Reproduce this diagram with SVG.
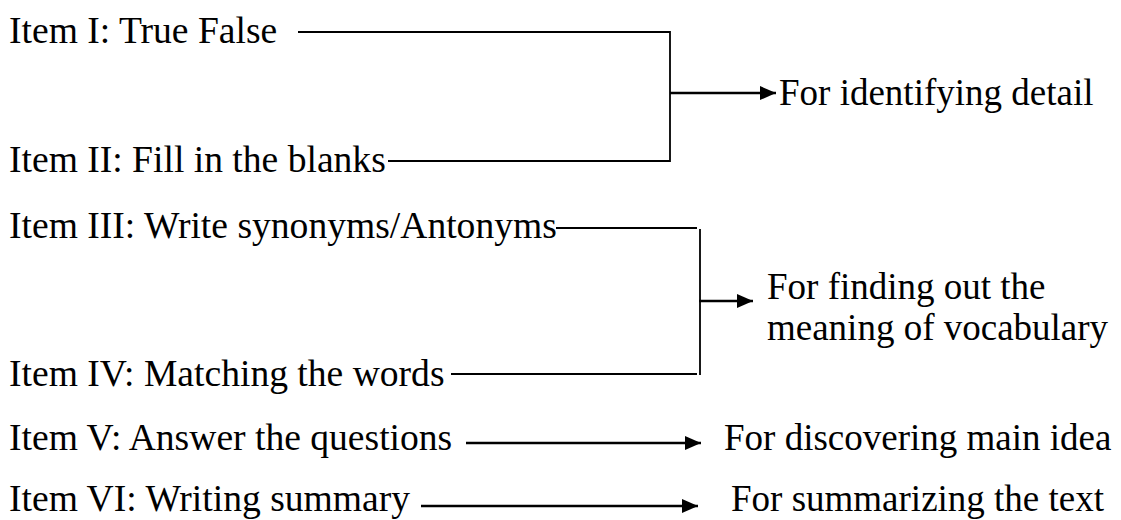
<svg xmlns="http://www.w3.org/2000/svg" width="1121" height="520" viewBox="0 0 1121 520">
<style>
text{font-family:'Liberation Serif','Times New Roman',Times,'DejaVu Serif',serif;font-size:37px;fill:#000}
.lbl{font-size:37.6px}
.br{stroke:#000;stroke-width:1.8;fill:none}
.ar{stroke:#000;stroke-width:2.5;fill:none}
</style>
<defs>
<marker id="ah" markerUnits="userSpaceOnUse" markerWidth="17" markerHeight="15" refX="16" refY="7.5" orient="auto" viewBox="0 0 17 15">
<path d="M0,0.5 L16,7.5 L0,14.5 z" fill="#000"/>
</marker>
</defs>
<rect width="1121" height="520" fill="#fff"/>
<g id="item1"><text class="lbl" x="9" y="43">Item I: True False</text></g>
<g id="item2"><text class="lbl" x="9" y="172">Item II: Fill in the blanks</text></g>
<g id="item3"><text class="lbl" x="9" y="238">Item III: Write synonyms/Antonyms</text></g>
<g id="item4"><text class="lbl" x="9" y="386">Item IV: Matching the words</text></g>
<g id="item5"><text class="lbl" x="9" y="450">Item V: Answer the questions</text></g>
<g id="item6"><text class="lbl" x="9" y="511">Item VI: Writing summary</text></g>
<g id="purpose1"><text x="779" y="105">For identifying detail</text></g>
<g id="purpose2"><text x="767" y="299">For finding out the</text><text x="767" y="340">meaning of vocabulary</text></g>
<g id="purpose3"><text x="724" y="450">For discovering main idea</text></g>
<g id="purpose4"><text x="731" y="511" font-size="37.5">For summarizing the text</text></g>
<g id="connectors">
<path class="br" d="M298,32 H670 V161 H388"/>
<path class="ar" d="M670,93 H776" marker-end="url(#ah)"/>
<path class="br" d="M556,228 H697 M700,229 V375 M451,374 H697"/>
<path class="ar" d="M699,301 H753" marker-end="url(#ah)"/>
<path class="ar" d="M466,443 H701" marker-end="url(#ah)"/>
<path class="ar" d="M421,506 H698" marker-end="url(#ah)"/>
</g>
</svg>
